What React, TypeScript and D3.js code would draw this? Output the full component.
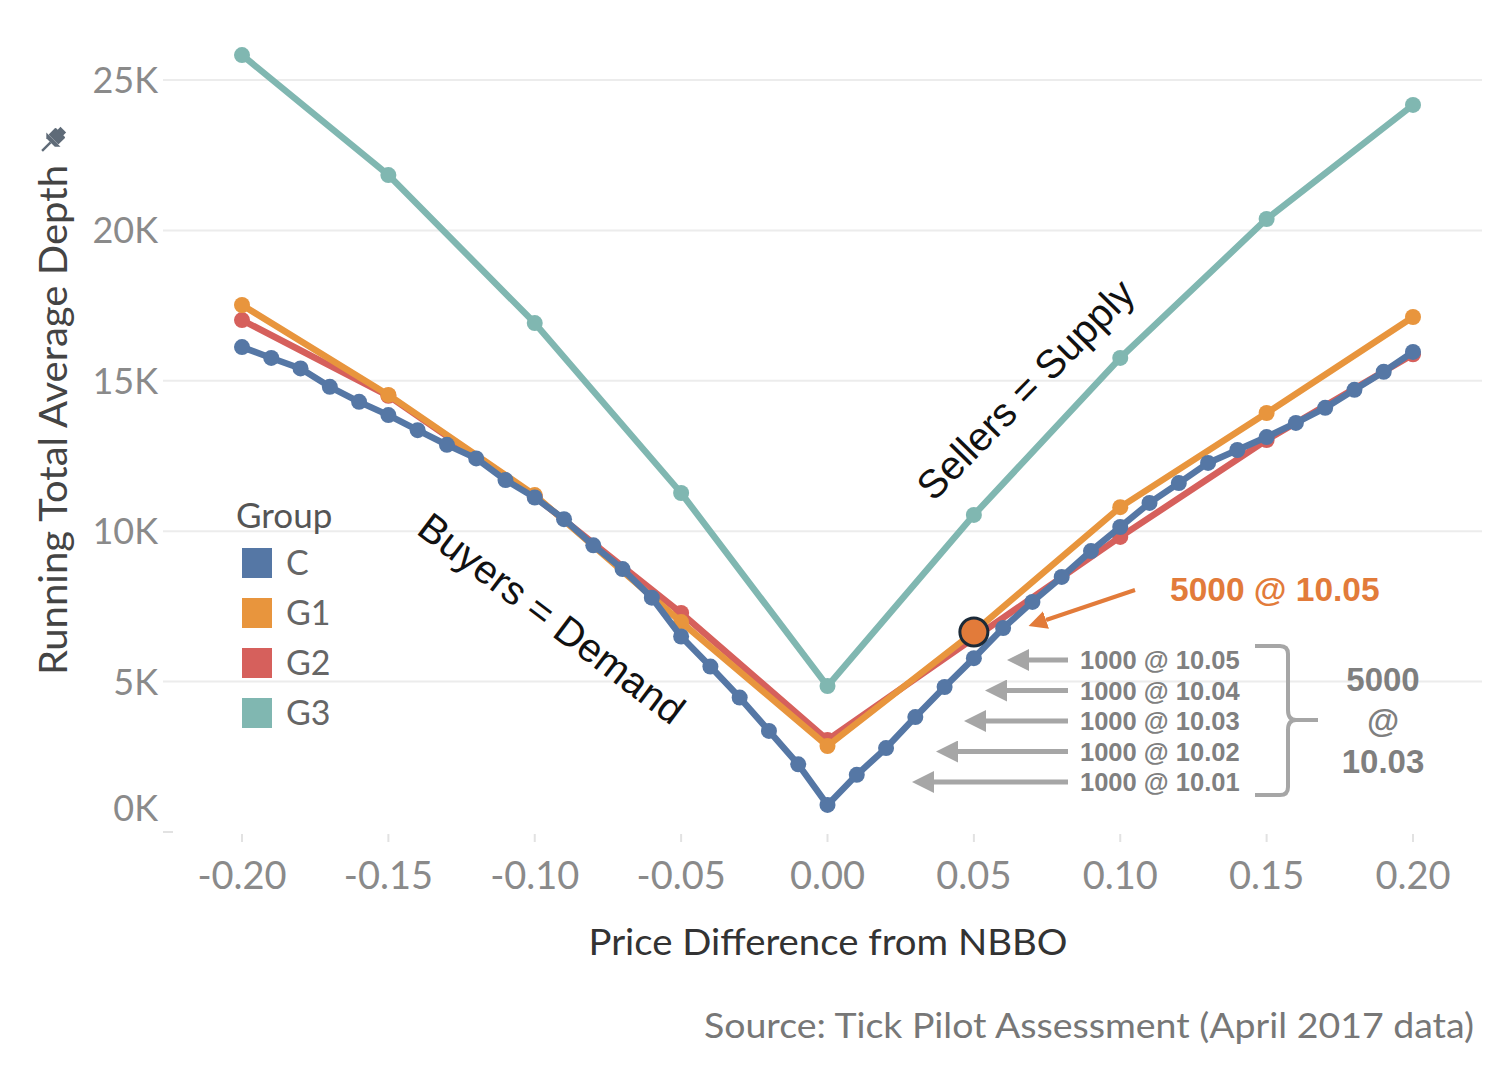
import React from "react";
import * as d3 from "d3";

const W = 1502;
const H = 1066;

// ---------- data ----------
const xTicks = [-0.2, -0.15, -0.1, -0.05, 0, 0.05, 0.1, 0.15, 0.2];
const yTicks = [0, 5000, 10000, 15000, 20000, 25000];

const xFine = [
  -0.2, -0.19, -0.18, -0.17, -0.16, -0.15, -0.14, -0.13, -0.12, -0.11, -0.1,
  -0.09, -0.08, -0.07, -0.06, -0.05, -0.04, -0.03, -0.02, -0.01, 0, 0.01, 0.02,
  0.03, 0.04, 0.05, 0.06, 0.07, 0.08, 0.09, 0.1, 0.11, 0.12, 0.13, 0.14, 0.15,
  0.16, 0.17, 0.18, 0.19, 0.2,
];
const xCoarse = [-0.2, -0.15, -0.1, -0.05, 0, 0.05, 0.1, 0.15, 0.2];

const valuesC = [
  16120, 15760, 15410, 14800, 14300, 13860, 13360, 12870, 12420, 11700, 11120,
  10400, 9530, 8740, 7790, 6500, 5500, 4470, 3360, 2250, 900, 1900, 2790, 3820,
  4820, 5780, 6780, 7650, 8480, 9340, 10140, 10940, 11600, 12270, 12700, 13130,
  13600, 14100, 14700, 15300, 15960,
];
const valuesG1 = [17520, 14530, 11200, 6980, 2860, 6650, 10800, 13930, 17120];
const valuesG2 = [17020, 14500, 11150, 7280, 3060, 6450, 9810, 13030, 15880];
const valuesG3 = [25830, 21840, 16920, 11270, 4850, 10540, 15760, 20380, 24170];

const groups = ["C", "G1", "G2", "G3"];
const groupColors = ["#5577a5", "#e8953d", "#d6605c", "#80b7b1"];

const highlightX = 0.05; // G1 point highlighted

const grayNotes = ["1000 @ 10.05", "1000 @ 10.04", "1000 @ 10.03", "1000 @ 10.02", "1000 @ 10.01"];
const grayArrowTips = [1007, 985, 964, 936, 912];

// ---------- layout ----------
const x = d3.scaleLinear().domain([-0.2, 0.2]).range([242, 1413]);
const y = d3.scaleLinear().domain([0, 25000]).range([832, 80]);

const tickFont = "Lato, 'Open Sans', sans-serif";
const annFont = "'Liberation Sans', Arial, sans-serif";

function fmtX(v: number) {
  return (v < 0 ? "-" : "") + Math.abs(v).toFixed(2);
}

export default function App() {
  const line = d3
    .line<[number, number]>()
    .x((d) => x(d[0]))
    .y((d) => y(d[1]));

  const series = [
    { name: "G3", xs: xCoarse, vs: valuesG3, color: groupColors[3] },
    { name: "G2", xs: xCoarse, vs: valuesG2, color: groupColors[2] },
    { name: "G1", xs: xCoarse, vs: valuesG1, color: groupColors[1] },
    { name: "C", xs: xFine, vs: valuesC, color: groupColors[0] },
  ];

  const hiIdx = xCoarse.indexOf(highlightX);
  const hx = x(highlightX);
  const hy = y(valuesG1[hiIdx]);

  const orange = "#e27b3a";
  const gray = "#a6a6a6";

  return (
    <svg
      width={W}
      height={H}
      style={{ position: "absolute", left: 0, top: 0, background: "#fff" }}
    >
      <defs>
        <marker id="arrGray" viewBox="0 0 10 10" refX="0" refY="5" markerWidth="4.4" markerHeight="4.4" orient="auto" markerUnits="strokeWidth">
          <path d="M0,0 L10,5 L0,10 z" fill={gray} />
        </marker>
        <marker id="arrOrange" viewBox="0 0 10 10" refX="0" refY="5" markerWidth="4.6" markerHeight="4.6" orient="auto" markerUnits="strokeWidth">
          <path d="M0,0 L10,5 L0,10 z" fill={orange} />
        </marker>
      </defs>

      {/* gridlines */}
      {yTicks.map((t) =>
        t === 0 ? null : (
          <line key={t} x1={163} x2={1482} y1={y(t)} y2={y(t)} stroke="#ececec" strokeWidth={2} />
        )
      )}
      <line x1={163} x2={173} y1={y(0)} y2={y(0)} stroke="#e2e2e2" strokeWidth={2} />

      {/* x tick marks */}
      {xTicks.map((t) => (
        <line key={t} x1={x(t)} x2={x(t)} y1={834} y2={842} stroke="#e2e2e2" strokeWidth={2} />
      ))}

      {/* y tick labels */}
      {yTicks.map((t) => (
        <text
          key={t}
          x={158}
          y={t === 0 ? y(t) - 24 : y(t)}
          dy="0.36em"
          textAnchor="end"
          fontFamily={tickFont}
          fontSize={36}
          fill="#8a8a8a"
        >
          {t / 1000 + "K"}
        </text>
      ))}

      {/* x tick labels */}
      {xTicks.map((t) => (
        <text
          key={t}
          x={x(t)}
          y={889}
          textAnchor="middle"
          fontFamily={tickFont}
          fontSize={38}
          fill="#8a8a8a"
        >
          {fmtX(t)}
        </text>
      ))}

      {/* axis titles */}
      <text
        transform={`translate(67,420) rotate(-90)`}
        textAnchor="middle"
        fontFamily={tickFont}
        fontSize={38}
        fill="#444"
        textLength={510}
        lengthAdjust="spacingAndGlyphs"
      >
        Running Total Average Depth
      </text>
      {/* pin icon */}
      <g transform="translate(52,141) rotate(45)" fill="#5f6b78">
        <rect x={-7} y={-12} width={14} height={10} rx={1} />
        <rect x={-4} y={-16} width={8} height={5} />
        <path d="M-10,-2 L10,-2 L6,2 L-6,2 z" />
        <rect x={-1.2} y={2} width={2.4} height={12} />
      </g>

      <text
        x={828}
        y={955}
        textAnchor="middle"
        fontFamily={tickFont}
        fontSize={37}
        fill="#333"
        textLength={479}
        lengthAdjust="spacingAndGlyphs"
      >
        Price Difference from NBBO
      </text>

      <text
        x={1474}
        y={1038}
        textAnchor="end"
        fontFamily={tickFont}
        fontSize={34}
        fill="#777"
        textLength={770}
        lengthAdjust="spacingAndGlyphs"
      >
        Source: Tick Pilot Assessment (April 2017 data)
      </text>

      {/* series */}
      {series.map((s) => {
        const pts: [number, number][] = s.xs.map((xv, i) => [xv, s.vs[i]]);
        return (
          <g key={s.name}>
            <path d={line(pts) || ""} fill="none" stroke={s.color} strokeWidth={6.5} strokeLinejoin="round" />
            {pts.map((p, i) => (
              <circle key={i} cx={x(p[0])} cy={y(p[1])} r={8} fill={s.color} />
            ))}
          </g>
        );
      })}

      {/* legend */}
      <text x={236} y={528} fontFamily={tickFont} fontSize={35} fill="#555">
        Group
      </text>
      {groups.map((g, i) => (
        <g key={g} transform={`translate(242,${548 + i * 50})`}>
          <rect width={30} height={30} fill={groupColors[i]} />
          <text x={44} y={15} dy="0.36em" fontFamily={tickFont} fontSize={34} fill="#666">
            {g}
          </text>
        </g>
      ))}

      {/* rotated annotations */}
      <text
        transform="translate(1025,389) rotate(-45.5)"
        textAnchor="middle"
        dy="0.36em"
        fontFamily={annFont}
        fontSize={40}
        fill="#111"
      >
        Sellers = Supply
      </text>
      <text
        transform="translate(552,618) rotate(37)"
        textAnchor="middle"
        dy="0.36em"
        fontFamily={annFont}
        fontSize={40}
        fill="#111"
      >
        Buyers = Demand
      </text>

      {/* highlight point */}
      <circle cx={hx} cy={hy} r={14} fill={orange} stroke="#1b2a38" strokeWidth={3} />

      {/* orange arrow + label */}
      <line x1={1135} y1={590} x2={1046} y2={620} stroke={orange} strokeWidth={4} markerEnd="url(#arrOrange)" />
      <text x={1170} y={601} fontFamily={annFont} fontWeight="bold" fontSize={33.5} fill={orange}>
        5000 @ 10.05
      </text>

      {/* gray arrows + labels */}
      {grayNotes.map((n, i) => {
        const cy = 660 + i * 30.5;
        const tip = grayArrowTips[i];
        return (
          <g key={n}>
            <line x1={1068} y1={cy} x2={tip + 22} y2={cy} stroke={gray} strokeWidth={5} markerEnd="url(#arrGray)" />
            <text x={1080} y={cy} dy="0.36em" fontFamily={annFont} fontWeight="bold" fontSize={25.5} fill="#808080">
              {n}
            </text>
          </g>
        );
      })}

      {/* brace */}
      <path
        d="M1255,646 L1280,646 Q1288,646 1288,654 L1288,710 Q1288,720 1296,720 L1318,720 M1296,720 Q1288,720 1288,730 L1288,787 Q1288,795 1280,795 L1255,795"
        fill="none"
        stroke={gray}
        strokeWidth={4}
      />
      {["5000", "@", "10.03"].map((t, i) => (
        <text
          key={t}
          x={1383}
          y={679 + i * 41}
          dy="0.36em"
          textAnchor="middle"
          fontFamily={annFont}
          fontWeight="bold"
          fontSize={33}
          fill="#7f7f7f"
        >
          {t}
        </text>
      ))}
    </svg>
  );
}
